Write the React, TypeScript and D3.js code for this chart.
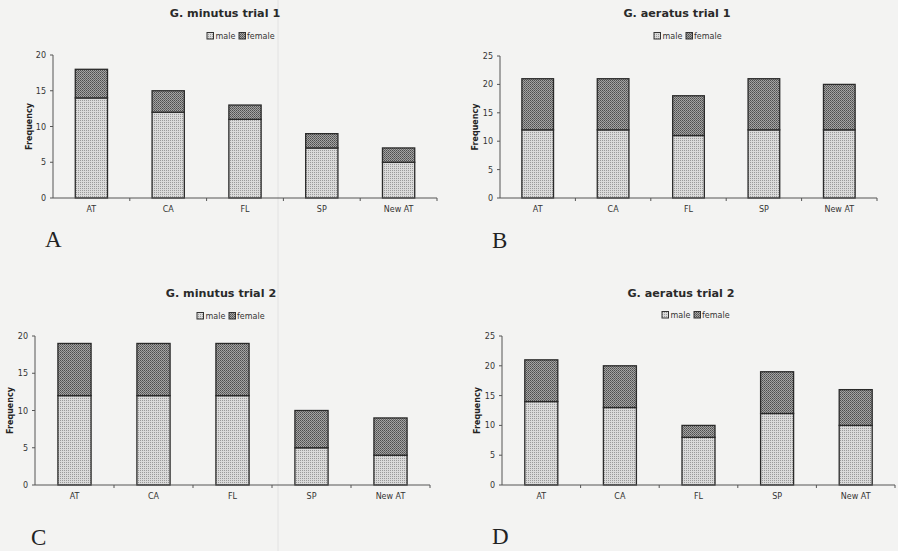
import React from 'react';
import { scaleBand, scaleLinear, stack } from 'd3';

const categories = ['AT', 'CA', 'FL', 'SP', 'New AT'];
const seriesKeys = ['male', 'female'];

const minutus1Male = [14, 12, 11, 7, 5];
const minutus1Female = [4, 3, 2, 2, 2];
const aeratus1Male = [12, 12, 11, 12, 12];
const aeratus1Female = [9, 9, 7, 9, 8];
const minutus2Male = [12, 12, 12, 5, 4];
const minutus2Female = [7, 7, 7, 5, 5];
const aeratus2Male = [14, 13, 8, 12, 10];
const aeratus2Female = [7, 7, 2, 7, 6];

const ticks20 = [0, 5, 10, 15, 20];
const ticks25 = [0, 5, 10, 15, 20, 25];

const sans = '"DejaVu Sans", Verdana, sans-serif';

type PanelProps = {
  title: string;
  letter: string;
  male: number[];
  female: number[];
  yTicks: number[];
  left: number;
  right: number;
  top: number;
  bottom: number;
  titleX: number;
  titleY: number;
  legendX: number;
  legendY: number;
  freqX: number;
  letterX: number;
  letterY: number;
};

function Panel(p: PanelProps) {
  const rows = categories.map((c, i) => ({ cat: c, male: p.male[i], female: p.female[i] }));
  const layers = stack<any>().keys(seriesKeys)(rows);
  const x = scaleBand<string>()
    .domain(categories)
    .range([p.left, p.right])
    .paddingInner(0.58)
    .paddingOuter(0.29);
  const y = scaleLinear()
    .domain([0, p.yTicks[p.yTicks.length - 1]])
    .range([p.bottom, p.top]);
  const step = x.step();
  const fills = ['url(#pMale)', 'url(#pFemale)'];

  return (
    <g>
      <text x={p.titleX} y={p.titleY} textAnchor="middle" fontFamily={sans} fontWeight="bold" fontSize={11.2} fill="#2a2a2a">
        {p.title}
      </text>
      {/* legend */}
      <g fontFamily={sans} fontSize={8} fill="#333">
        <rect x={p.legendX} y={p.legendY - 6.5} width={6.5} height={6.5} fill="url(#pMale)" stroke="#333" strokeWidth={1} />
        <text x={p.legendX + 8.5} y={p.legendY}>male</text>
        <rect x={p.legendX + 32} y={p.legendY - 6.5} width={6.5} height={6.5} fill="url(#pFemale)" stroke="#333" strokeWidth={1} />
        <text x={p.legendX + 40} y={p.legendY}>female</text>
      </g>
      {/* y axis */}
      <line x1={p.left} x2={p.left} y1={p.top} y2={p.bottom} stroke="#555" strokeWidth={1} />
      {p.yTicks.map((t) => (
        <g key={t}>
          <line x1={p.left - 3} x2={p.left} y1={y(t)} y2={y(t)} stroke="#555" />
          <text x={p.left - 7} y={y(t) + 3} textAnchor="end" fontFamily={sans} fontSize={8} fill="#333">
            {t}
          </text>
        </g>
      ))}
      <text
        transform={`translate(${p.freqX},${(p.top + p.bottom) / 2}) rotate(-90)`}
        textAnchor="middle"
        fontFamily={sans}
        fontWeight="bold"
        fontSize={8}
        fill="#222"
      >
        Frequency
      </text>
      {/* bars */}
      {layers.map((layer, li) =>
        layer.map((d: any, i: number) => (
          <rect
            key={`${li}-${i}`}
            x={x(categories[i])}
            y={y(d[1])}
            width={x.bandwidth()}
            height={y(d[0]) - y(d[1])}
            fill={fills[li]}
            stroke="#2a2a2a"
            strokeWidth={1.3}
          />
        ))
      )}
      {/* x axis */}
      <line x1={p.left} x2={p.right} y1={p.bottom} y2={p.bottom} stroke="#555" strokeWidth={1} />
      {categories.map((c, i) => (
        <g key={c}>
          <line x1={p.left + step * (i + 1)} x2={p.left + step * (i + 1)} y1={p.bottom} y2={p.bottom + 3} stroke="#555" />
          <text
            x={(x(c) as number) + x.bandwidth() / 2}
            y={p.bottom + 14}
            textAnchor="middle"
            fontFamily={sans}
            fontSize={8}
            fill="#333"
          >
            {c}
          </text>
        </g>
      ))}
      <text x={p.letterX} y={p.letterY} fontFamily='"Liberation Serif", "DejaVu Serif", serif' fontSize={23} fill="#222">
        {p.letter}
      </text>
    </g>
  );
}

export default function App() {
  return (
    <svg
      width={898}
      height={551}
      style={{ position: 'absolute', left: 0, top: 0 }}
      xmlns="http://www.w3.org/2000/svg"
    >
      <defs>
        <pattern id="pMale" width={2} height={2} patternUnits="userSpaceOnUse">
          <rect width={2} height={2} fill="#dadada" />
          <rect width={1} height={1} fill="#9a9a9a" />
        </pattern>
        <pattern id="pFemale" width={2} height={2} patternUnits="userSpaceOnUse">
          <rect width={2} height={2} fill="#a4a4a4" />
          <rect width={1} height={1} fill="#4e4e4e" />
          <rect x={1} y={1} width={1} height={1} fill="#666" />
        </pattern>
      </defs>
      <rect width={898} height={551} fill="#f3f3f2" />
      <line x1={278} x2={278} y1={0} y2={551} stroke="#e2e2e2" strokeWidth={1} />
      <Panel
        title="G. minutus trial 1"
        letter="A"
        male={minutus1Male}
        female={minutus1Female}
        yTicks={ticks20}
        left={53}
        right={437}
        top={55}
        bottom={198}
        titleX={225}
        titleY={17}
        legendX={207}
        legendY={39}
        freqX={32}
        letterX={45}
        letterY={247}
      />
      <Panel
        title="G. aeratus trial 1"
        letter="B"
        male={aeratus1Male}
        female={aeratus1Female}
        yTicks={ticks25}
        left={500}
        right={877}
        top={56}
        bottom={198}
        titleX={677}
        titleY={17}
        legendX={654}
        legendY={39}
        freqX={478}
        letterX={492}
        letterY={248}
      />
      <Panel
        title="G. minutus trial 2"
        letter="C"
        male={minutus2Male}
        female={minutus2Female}
        yTicks={ticks20}
        left={35}
        right={430}
        top={336}
        bottom={485}
        titleX={221}
        titleY={297}
        legendX={197}
        legendY={319}
        freqX={13}
        letterX={31}
        letterY={545}
      />
      <Panel
        title="G. aeratus trial 2"
        letter="D"
        male={aeratus2Male}
        female={aeratus2Female}
        yTicks={ticks25}
        left={502}
        right={895}
        top={336}
        bottom={485}
        titleX={681}
        titleY={297}
        legendX={662}
        legendY={318}
        freqX={480}
        letterX={492}
        letterY={544}
      />
    </svg>
  );
}
